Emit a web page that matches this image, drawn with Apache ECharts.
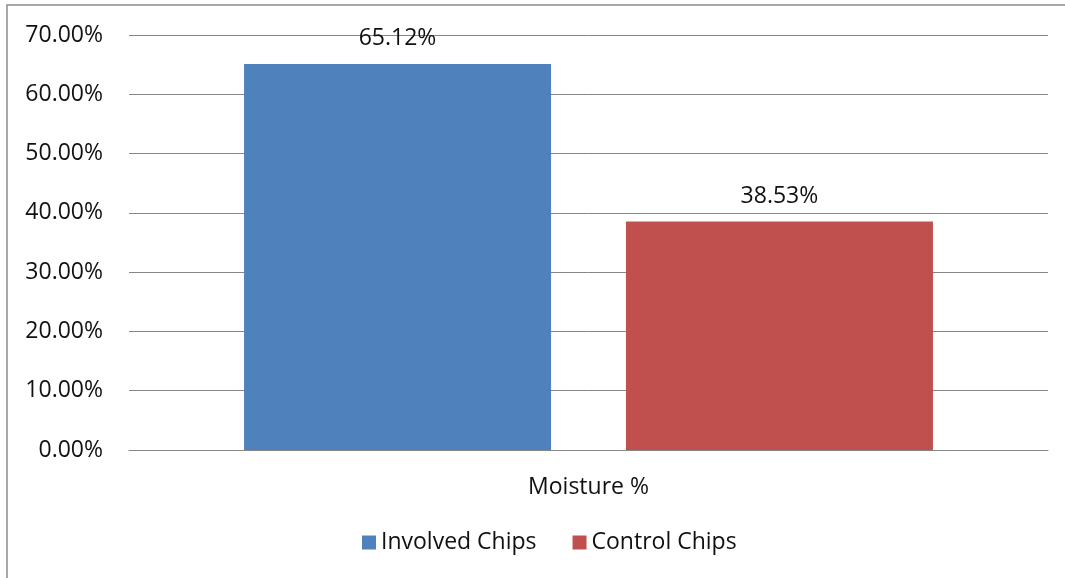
<!DOCTYPE html>
<html>
<head>
<meta charset="utf-8">
<script src="https://cdn.jsdelivr.net/npm/echarts@6/dist/echarts.min.js"></script>
<style>
  html, body { margin: 0; padding: 0; background: #fff; }
  #chart { width: 1065px; height: 578px; }
</style>
</head>
<body>
<div id="chart"></div>
<script>
// Moisture content of involved vs. control chips
const categories = ['Moisture %'];
const seriesNames = ['Involved Chips', 'Control Chips'];
const involvedValues = [65.12];
const controlValues = [38.53];
const seriesColors = ['#4F81BD', '#C0504D'];
const yMin = 0, yMax = 70, yStep = 10;

const FONT = '"Open Sans", "Noto Sans", sans-serif';
const FS = 23;
const chart = echarts.init(document.getElementById('chart'), null, { renderer: 'canvas' });

const fmt = v => v.toFixed(2) + '%';

chart.setOption({
  animation: false,
  backgroundColor: '#fff',
  textStyle: { fontFamily: FONT },
  graphic: [{
    type: 'polyline',
    shape: { points: [[7, 600], [7, 5], [1070, 5]] },
    style: { stroke: '#8c8c8c', lineWidth: 1.5, fill: null }
  }],
  grid: { left: 129, right: 17, top: 35, bottom: 128, containLabel: false },
  legend: {
    bottom: 19,
    left: 357,
    itemWidth: 14,
    itemHeight: 14,
    itemGap: 36,
    icon: 'rect',
    textStyle: { fontSize: FS, color: '#111', fontFamily: FONT },
    data: seriesNames
  },
  xAxis: {
    type: 'category',
    data: categories,
    axisLine: { show: true, lineStyle: { color: '#868686', width: 1 } },
    axisTick: { show: false },
    axisLabel: { color: '#111', fontSize: FS, margin: 26, fontFamily: FONT }
  },
  yAxis: {
    type: 'value',
    min: yMin,
    max: yMax,
    interval: yStep,
    axisLine: { show: false },
    axisTick: { show: false },
    splitLine: { lineStyle: { color: '#868686', width: 1 } },
    axisLabel: { color: '#111', fontSize: FS, margin: 26, fontFamily: FONT, formatter: v => fmt(v) }
  },
  series: [
    {
      name: seriesNames[0],
      type: 'bar',
      data: involvedValues,
      barWidth: 307,
      barGap: '24.4%',
      itemStyle: { color: seriesColors[0] },
      label: { show: true, position: 'top', distance: 14, color: '#111', fontSize: FS, fontFamily: FONT, formatter: p => fmt(p.value) }
    },
    {
      name: seriesNames[1],
      type: 'bar',
      data: controlValues,
      barWidth: 307,
      barGap: '24.4%',
      itemStyle: { color: seriesColors[1] },
      label: { show: true, position: 'top', distance: 14, color: '#111', fontSize: FS, fontFamily: FONT, formatter: p => fmt(p.value) }
    }
  ]
});
</script>
</body>
</html>
